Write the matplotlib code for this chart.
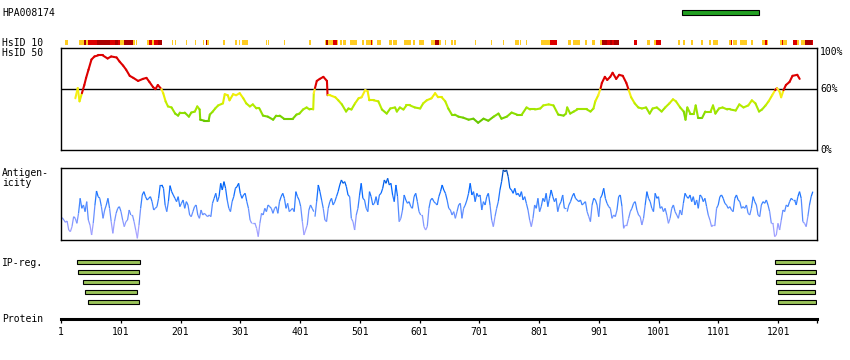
import numpy as np
import matplotlib
matplotlib.use('Agg')
import matplotlib.pyplot as plt
from matplotlib.collections import LineCollection
from matplotlib.colors import LinearSegmentedColormap, Normalize

# ---- data ----
antibody = 'HPA008174'
protein_len = 1266
epitope = (1040, 1169)

# HsID 10 strip: (start, end, level)  o = orange, r = red, d = dark red
hsid10_segments = [
    (8, 13, 'o'), (31, 40, 'o'), (40, 43, 'd'), (43, 46, 'o'), (46, 61, 'r'), (61, 83, 'd'),
    (83, 91, 'r'), (91, 96, 'd'), (96, 100, 'r'), (100, 106, 'o'), (106, 122, 'd'), (122, 125, 'o'),
    (127, 128, 'o'), (145, 148, 'o'), (148, 153, 'r'), (153, 157, 'o'), (157, 163, 'r'), (163, 170, 'd'),
    (187, 188, 'o'), (192, 193, 'o'), (210, 212, 'o'), (225, 227, 'o'), (239, 241, 'o'), (243, 245, 'd'),
    (245, 248, 'o'), (272, 275, 'o'), (292, 296, 'o'), (299, 301, 'o'), (304, 314, 'o'), (344, 346, 'o'),
    (347, 349, 'o'), (374, 376, 'o'), (416, 419, 'o'), (443, 445, 'o'), (445, 448, 'd'), (448, 456, 'o'),
    (456, 463, 'r'), (463, 465, 'o'), (468, 471, 'o'), (473, 478, 'o'), (485, 496, 'o'), (505, 508, 'o'),
    (511, 520, 'o'), (520, 521, 'r'), (521, 523, 'o'), (530, 537, 'o'), (550, 555, 'o'), (557, 563, 'o'),
    (575, 587, 'o'), (590, 593, 'o'), (600, 609, 'o'), (620, 627, 'o'), (627, 634, 'd'), (634, 637, 'o'),
    (644, 645, 'o'), (654, 657, 'o'), (659, 662, 'o'), (694, 696, 'o'), (721, 723, 'o'), (741, 743, 'o'),
    (761, 767, 'o'), (769, 771, 'o'), (779, 781, 'o'), (804, 819, 'o'), (819, 831, 'r'), (849, 854, 'o'),
    (858, 870, 'o'), (878, 881, 'o'), (890, 895, 'o'), (903, 906, 'o'), (906, 915, 'd'), (915, 920, 'r'),
    (920, 923, 'd'), (923, 926, 'r'), (926, 935, 'd'), (960, 965, 'r'), (982, 987, 'o'), (993, 997, 'o'),
    (997, 1005, 'r'), (1034, 1037, 'o'), (1042, 1045, 'o'), (1055, 1059, 'o'), (1072, 1075, 'o'),
    (1085, 1089, 'o'), (1092, 1100, 'o'), (1119, 1122, 'o'), (1122, 1124, 'r'), (1126, 1132, 'o'),
    (1137, 1149, 'o'), (1156, 1159, 'o'), (1174, 1179, 'o'), (1179, 1182, 'r'), (1182, 1184, 'o'),
    (1204, 1208, 'o'), (1208, 1209, 'r'), (1209, 1216, 'o'), (1226, 1233, 'r'), (1233, 1236, 'o'),
    (1239, 1246, 'o'), (1246, 1258, 'd'), (1258, 1259, 'r'),
]

# HsID 50 identity (%)
hsid50_res = [
    25, 29, 32, 36, 40, 43, 47, 52, 57, 63, 71, 79, 85, 94, 99, 105, 110, 116, 122, 130, 138, 144, 149,
    155, 159, 163, 169, 172, 176, 180, 186, 192, 197, 200, 208, 215, 219, 225, 229, 233, 234, 241, 248,
    250, 255, 259, 264, 272, 275, 280, 283, 289, 294, 300, 306, 311, 317, 322, 328, 333, 339, 347, 356,
    361, 367, 374, 381, 389, 395, 400, 406, 412, 417, 423,
    424, 426, 429, 434, 440, 446, 447, 451, 460, 465, 471, 478, 482, 487, 493, 499, 504, 510, 514, 517,
    524, 532, 538, 546, 552, 560, 563, 568, 574, 579, 585, 593, 602, 607, 613, 621, 627, 632, 638, 644,
    649, 655, 660, 666, 674, 683, 691, 699, 708, 716, 725, 733, 738, 747, 755, 764, 772, 780, 786, 794,
    803, 808, 817, 825, 833, 842, 846,
    848, 853, 859, 865, 873, 881, 887, 892, 895, 900, 904, 906, 911, 915, 920, 924, 930, 935, 941, 947,
    951, 955, 961, 967, 973, 980, 986, 991, 998, 1006, 1012, 1019, 1025, 1030, 1037, 1043, 1046, 1049,
    1054, 1060, 1063, 1067, 1074, 1079, 1088, 1092, 1096, 1102, 1108, 1116, 1121, 1130, 1136, 1143,
    1151, 1157, 1163, 1169, 1174, 1180, 1185, 1191, 1196, 1199, 1203, 1206, 1210, 1214, 1220, 1225,
    1233, 1237,
]
hsid50_pct = [
    51, 61, 48, 56, 64, 71, 79, 89, 92, 93, 93, 90, 92, 91, 87, 83, 79, 73, 71, 68, 70, 71, 67,
    62, 60, 64, 60, 56, 48, 43, 42, 36, 34, 37, 37, 33, 37, 38, 43, 40, 30, 29, 29,
    35, 38, 41, 44, 46, 55, 54, 49, 55, 54, 56, 51, 46, 43, 45, 41, 41, 34, 33, 30,
    34, 34, 31, 31, 31, 35, 36, 40, 42, 40, 40,
    56, 61, 68, 70, 72, 68, 54, 54, 52, 49, 45, 38, 41, 40, 46, 51, 52, 59, 58, 49,
    49, 48, 40, 36, 41, 42, 38, 42, 40, 44, 44, 42, 41, 46, 49, 51, 56, 52, 52, 48,
    41, 35, 35, 33, 32, 30, 31, 27, 31, 29, 33, 36, 31, 33, 37, 35, 35, 42, 40, 40,
    41, 44, 45, 44, 35, 34, 36,
    42, 36, 38, 40, 40, 40, 38, 41, 48, 54, 61, 66, 72, 69, 72, 76, 70, 74, 73, 66,
    59, 52, 46, 42, 41, 42, 36, 41, 42, 38, 42, 46, 50, 48, 42, 38, 30, 42,
    36, 36, 44, 32, 32, 38, 38, 44, 36, 41, 42, 40, 40, 39, 45, 42,
    44, 49, 46, 38, 40, 44, 48, 54, 59, 61, 58, 52, 59, 64, 67, 73,
    74, 70,
]

# Antigenicity, evenly sampled over three residue spans
antigen_spans = [(3, 424), (426, 846), (848, 1259)]
antigen_part1 = [
    67, 60, 53, 57, 30, 25, 40, 70, 65, 50, 80, 125, 95, 105, 85, 115, 60, 45, 15, 50, 103, 147, 130,
    125, 100, 65, 90, 105, 125, 95, 55, 20, 55, 80, 95, 100, 85, 60, 40, 55, 60, 90, 75, 75, 55, 30, 5,
    45, 95, 135, 145, 130, 120, 125, 130, 115, 90, 95, 100, 125, 165, 165, 155, 105, 85, 115, 163, 145,
    135, 125, 115, 130, 100, 110, 120, 95, 115, 105, 75, 70, 85, 100, 105, 75, 65, 90, 75, 80, 75, 70,
    75, 70, 110, 125, 140, 115, 130, 170, 150, 175, 155, 120, 95, 85, 115, 130, 155, 160, 170, 140, 125,
    135, 140, 115, 95, 60, 50, 50, 50, 35, 10, 50, 80, 75, 95, 85, 105, 100, 95, 80, 95, 100, 80, 115,
    130, 140, 125, 95, 110, 85, 90, 95, 85, 145, 130, 120, 100, 55, 15, 30, 45, 90, 105, 95, 85,
]
antigen_part2 = [
    70, 115, 165, 145, 120, 95, 60, 55, 95, 115, 125, 105, 115, 130, 145, 165, 180, 170, 175, 160, 135,
    130, 65, 55, 30, 75, 95, 135, 170, 125, 120, 95, 85, 145, 130, 105, 110, 130, 105, 135, 140, 155,
    180, 170, 185, 165, 170, 135, 115, 165, 130, 55, 65, 90, 135, 120, 110, 115, 100, 95, 130, 140, 115,
    85, 75, 75, 40, 30, 40, 95, 120, 125, 115, 110, 105, 130, 145, 165, 150, 140, 120, 95, 90, 75, 85,
    65, 85, 105, 110, 65, 95, 105, 120, 140, 170, 135, 145, 115, 140, 130, 135, 90, 115, 105, 130, 140,
    105, 60, 40, 70, 95, 115, 150, 175, 210, 205, 210, 190, 155, 150, 140, 155, 135, 140, 130, 145, 120,
    130, 110, 90, 60, 40, 65, 105, 95, 125, 85, 100, 125, 115, 140, 100, 125, 150, 130, 115, 125, 85,
    105, 115, 135, 95, 95,
]
antigen_part3 = [
    85, 105, 115, 130, 140, 125, 120, 115, 120, 105, 110, 115, 85, 70, 55, 105, 125, 120, 105, 70, 125,
    135, 155, 125, 110, 100, 95, 65, 75, 70, 90, 130, 135, 100, 35, 45, 45, 65, 85, 95, 110, 115, 90,
    75, 70, 45, 65, 105, 145, 125, 115, 95, 85, 140, 125, 130, 95, 100, 85, 95, 75, 50, 65, 95, 105, 85,
    75, 65, 90, 75, 110, 140, 130, 125, 135, 115, 130, 105, 120, 95, 135, 130, 115, 125, 100, 75, 60,
    40, 45, 45, 95, 105, 130, 135, 125, 110, 105, 95, 100, 90, 85, 125, 135, 120, 115, 95, 100, 95, 105,
    80, 75, 95, 130, 115, 105, 75, 70, 105, 115, 110, 120, 105, 85, 50, 50, 10, 15, 50, 30, 60, 90, 85,
    105, 100, 115, 125, 120, 120, 105, 130, 145, 125, 55, 50, 40, 70, 105, 130, 145,
]

# IP regions: row, start, end
ip_row = [0, 1, 2, 3, 4, 0, 1, 2, 3, 4]
ip_start = [28, 30, 38, 41, 47, 1196, 1198, 1198, 1201, 1201]
ip_end = [134, 132, 132, 129, 132, 1263, 1265, 1262, 1262, 1265]

tick_res = [1, 101, 201, 301, 401, 501, 601, 701, 801, 901, 1001, 1101, 1201]

# ---- layout helpers (pixel based) ----
W, H = 850, 360
X0, X1 = 61, 817
FONT = 'DejaVu Sans Mono'
FS = 7

fig = plt.figure(figsize=(W / 100, H / 100), dpi=100)
fig.patch.set_facecolor('white')


def track(top, bottom):
    ax = fig.add_axes([X0 / W, 1 - bottom / H, (X1 - X0) / W, (bottom - top) / H])
    ax.set_xlim(1, protein_len)
    ax.set_xticks([])
    ax.set_yticks([])
    return ax


def hidden(ax):
    for s in ax.spines.values():
        s.set_visible(False)
    ax.patch.set_alpha(0)


def label(x, y, s, **kw):
    fig.text(x / W, 1 - y / H, s, fontsize=FS, family=FONT, va='center', **kw)


# epitope bar on top
ax = track(7.5, 17.5)
hidden(ax)
ax.set_ylim(-0.5, 0.5)
ax.barh([0], [epitope[1] - epitope[0]], left=[epitope[0]], height=0.44,
        color='#22a022', edgecolor='black', linewidth=0.8)

# HsID 10 strip
ax = track(40, 45)
hidden(ax)
ax.set_ylim(0, 1)
strip_colors = {'o': '#ffcc22', 'r': '#dd0000', 'd': '#aa0000'}
for level, col in strip_colors.items():
    spans = [(s, e - s) for s, e, lv in hsid10_segments if lv == level]
    ax.broken_barh(spans, (0, 1), facecolors=col, edgecolor='none')

# HsID 50 line
ax = track(48.3, 150.3)
ax.set_ylim(0, 100)
for s in ax.spines.values():
    s.set_linewidth(1.0)
ax.axhline(60, color='black', linewidth=1.0, zorder=1)
green_cmap = LinearSegmentedColormap.from_list(
    'ident', [(0, '#55bb00'), (0.3, '#88dd00'), (0.55, '#bbee00'), (0.8, '#eeee00'), (1, '#ffee33')])
gnorm = Normalize(25, 60)
res = np.array(hsid50_res, float)
pct = np.array(hsid50_pct, float)
pts = np.column_stack([res, pct])
segs = np.stack([pts[:-1], pts[1:]], axis=1)
mid = (pct[:-1] + pct[1:]) / 2
cols = ['#dd0000' if m >= 60 else green_cmap(gnorm(m)) for m in mid]
ax.add_collection(LineCollection(segs, colors=cols, linewidths=1.5, capstyle='round', zorder=2))
for yv, txt in [(96, '100%'), (60, '60%'), (0, '0%')]:
    ax.text(1.004, yv, txt, transform=ax.get_yaxis_transform(), fontsize=FS, family=FONT,
            va='center', ha='left')

# Antigenicity line
ax = track(168.3, 240)
ax.set_ylim(0, 215)
for s in ax.spines.values():
    s.set_linewidth(1.0)
blue_cmap = LinearSegmentedColormap.from_list(
    'anti', [(0, '#bbaaff'), (0.25, '#8899ff'), (0.5, '#3f85ff'), (0.72, '#0066ff'),
             (0.9, '#0055cc'), (1, '#003f99')])
bnorm = Normalize(0, 215)
for (a, b), part in zip(antigen_spans, [antigen_part1, antigen_part2, antigen_part3]):
    v = np.array(part, float)
    x = np.linspace(a, b, len(v))
    p = np.column_stack([x, v])
    sg = np.stack([p[:-1], p[1:]], axis=1)
    ax.add_collection(LineCollection(sg, colors=blue_cmap(bnorm((v[:-1] + v[1:]) / 2)),
                                     linewidths=0.9))

# IP regions
ax = track(257.3, 307.3)
hidden(ax)
ax.set_ylim(4.5, -0.5)
ax.barh(ip_row, np.array(ip_end) - np.array(ip_start), left=ip_start, height=0.43,
        color='#9bc45a', edgecolor='black', linewidth=0.8)

# protein axis
ax = track(305, 319.3)
for k in ['top', 'left', 'right']:
    ax.spines[k].set_visible(False)
ax.patch.set_alpha(0)
ax.spines['bottom'].set_linewidth(2.2)
ax.set_xticks(tick_res + [protein_len])
ax.set_xticklabels([str(t) for t in tick_res] + [''], fontsize=FS, family=FONT)
ax.tick_params(axis='x', direction='out', length=3, width=0.9, pad=2.5)

# left labels
label(2, 13, antibody)
label(2, 42.5, 'HsID 10')
label(2, 52.5, 'HsID 50')
label(2, 173, 'Antigen-')
label(2, 182.5, 'icity')
label(2, 262.5, 'IP-reg.')
label(2, 319.5, 'Protein')

fig.savefig('out.png', dpi=100)
